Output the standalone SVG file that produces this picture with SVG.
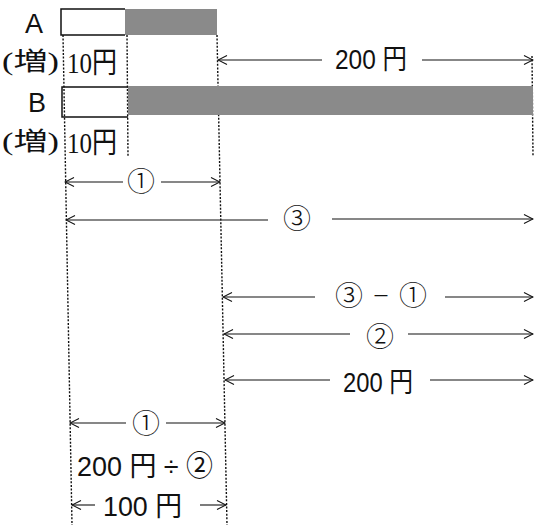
<svg xmlns="http://www.w3.org/2000/svg" width="535" height="525" viewBox="0 0 535 525">
<style>
.dot{stroke:#111;stroke-width:1.4;stroke-dasharray:2 1.6;fill:none}
.arr{stroke:#111;stroke-width:1.1;fill:none}
.bar{fill:#8a8a8a}
.edge{stroke:#111;stroke-width:1.5;fill:none}
.t{font-family:"Liberation Sans","Noto Sans CJK JP",sans-serif;font-size:28px;fill:#111}
.s{font-family:"Liberation Serif","Noto Sans CJK JP",serif;font-size:29px;fill:#111}
.c{font-family:"Noto Sans CJK JP",sans-serif;font-size:28px;font-weight:300;fill:#111}
.p{font-family:"Liberation Serif","Noto Sans CJK JP",serif;font-size:25px;fill:#111}
.lab{font-family:"Liberation Sans",sans-serif;font-size:27px;fill:#111}
</style>
<defs>
<marker id="ah" viewBox="-1 -6 11 12" refX="9" refY="0" markerWidth="11" markerHeight="12" markerUnits="userSpaceOnUse" orient="auto-start-reverse">
<path d="M0,-4.5 L9,0 L0,4.5" fill="none" stroke="#111" stroke-width="1.1"/>
</marker>
</defs>
<rect width="535" height="525" fill="#fff"/>

<g id="guides">
<line class="dot" x1="63" y1="35" x2="72" y2="525"/>
<line class="dot" x1="127" y1="35" x2="128" y2="156"/>
<line class="dot" x1="217" y1="35" x2="227" y2="525"/>
<line class="dot" x1="532" y1="56" x2="533" y2="156"/>
</g>

<g id="barA">
<rect class="bar" x="125" y="9" width="92" height="26"/>
<path class="edge" d="M125,9 H61 V35 H125"/>
<text class="lab" x="25" y="33">A</text>
</g>

<g id="barB">
<rect class="bar" x="128" y="86" width="405" height="29"/>
<path class="edge" d="M128,87 H62 V117 H128"/>
<text class="lab" x="28" y="112">B</text>
</g>

<g id="incA">
<text class="p" x="2" y="70" textLength="57" lengthAdjust="spacingAndGlyphs">(増)</text>
<text class="s" x="67" y="73" textLength="50" lengthAdjust="spacingAndGlyphs">10円</text>
</g>
<g id="incB">
<text class="p" x="2" y="150" textLength="57" lengthAdjust="spacingAndGlyphs">(増)</text>
<text class="s" x="67" y="153" textLength="50" lengthAdjust="spacingAndGlyphs">10円</text>
</g>

<g id="connectors">
<path class="arr" d="M322,60 H218" marker-end="url(#ah)"/>
<path class="arr" d="M422,60 H533" marker-end="url(#ah)"/>

<path class="arr" d="M123,182 H65" marker-end="url(#ah)"/>
<path class="arr" d="M161,182 H220" marker-end="url(#ah)"/>

<path class="arr" d="M268,220 H66" marker-end="url(#ah)"/>
<path class="arr" d="M332,219 H533" marker-end="url(#ah)"/>

<path class="arr" d="M315,297 H223" marker-end="url(#ah)"/>
<path class="arr" d="M445,297 H533" marker-end="url(#ah)"/>

<path class="arr" d="M350,334 H224" marker-end="url(#ah)"/>
<path class="arr" d="M408,334 H533" marker-end="url(#ah)"/>

<path class="arr" d="M330,380 H225" marker-end="url(#ah)"/>
<path class="arr" d="M430,380 H533" marker-end="url(#ah)"/>

<path class="arr" d="M126,423 H70" marker-end="url(#ah)"/>
<path class="arr" d="M166,423 H225" marker-end="url(#ah)"/>

<path class="arr" d="M95,505 H72" marker-end="url(#ah)"/>
<path class="arr" d="M200,505 H226" marker-end="url(#ah)"/>
</g>

<g id="labels">
<text class="t" x="335" y="69" textLength="72" lengthAdjust="spacingAndGlyphs">200 円</text>
<text class="c" x="141" y="192" text-anchor="middle">①</text>
<text class="c" x="297" y="229" text-anchor="middle">③</text>
<text class="c" x="335" y="306" textLength="92" lengthAdjust="spacing">③ − ①</text>
<text class="c" x="380" y="347" text-anchor="middle">②</text>
<text class="t" x="343" y="392" textLength="70" lengthAdjust="spacingAndGlyphs">200 円</text>
<text class="c" x="146" y="434" text-anchor="middle">①</text>
<text class="t" x="77" y="476" textLength="136" lengthAdjust="spacingAndGlyphs">200 円 ÷ ②</text>
<text class="t" x="103" y="516" textLength="79" lengthAdjust="spacingAndGlyphs">100 円</text>
</g>
</svg>
